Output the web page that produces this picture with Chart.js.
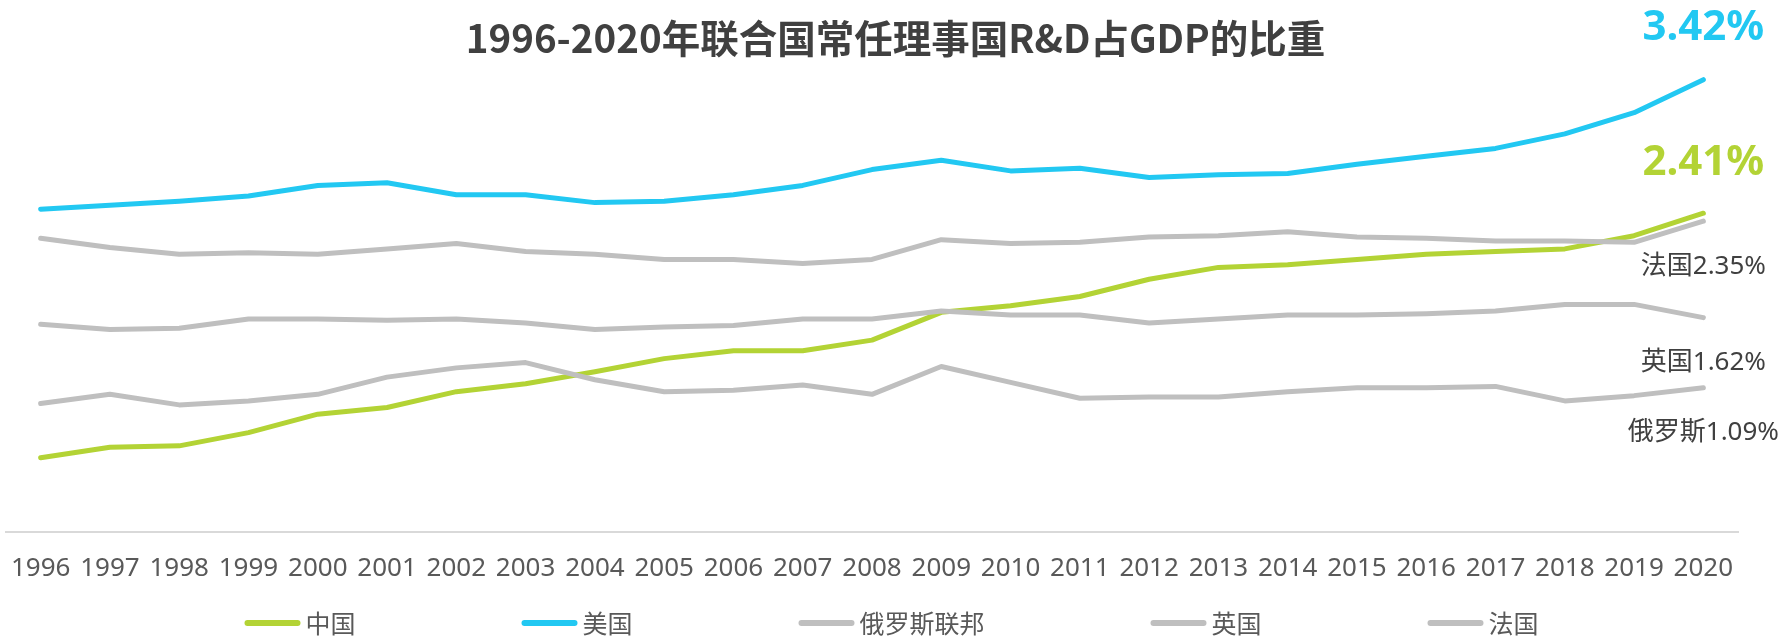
<!DOCTYPE html>
<html>
<head>
<meta charset="utf-8">
<title>R&D占GDP的比重</title>
<script src="https://cdn.jsdelivr.net/npm/chart.js@4.4.0/dist/chart.umd.min.js"></script>
<style>
    html, body { margin: 0; padding: 0; background: #fff; }
    #wrap { width: 1783px; height: 636px; position: relative; }
</style>
</head>
<body>
<div id="wrap"><canvas id="chart"></canvas></div>
<script>
const years = ['1996', '1997', '1998', '1999', '2000', '2001', '2002', '2003', '2004', '2005', '2006', '2007', '2008',
    '2009', '2010', '2011', '2012', '2013', '2014', '2015', '2016', '2017', '2018', '2019', '2020'];

// R&D占GDP比重 (%)
const china = [0.56, 0.64, 0.65, 0.75, 0.89, 0.94, 1.06, 1.12, 1.21, 1.31, 1.37, 1.37, 1.45,
    1.66, 1.71, 1.78, 1.91, 2.00, 2.02, 2.06, 2.10, 2.12, 2.14, 2.24, 2.41];
const usa = [2.44, 2.47, 2.50, 2.54, 2.62, 2.64, 2.55, 2.55, 2.49, 2.50, 2.55, 2.62, 2.74,
    2.81, 2.73, 2.75, 2.68, 2.70, 2.71, 2.78, 2.84, 2.90, 3.01, 3.17, 3.42];
const russia = [0.97, 1.04, 0.96, 0.99, 1.04, 1.17, 1.24, 1.28, 1.15, 1.06, 1.07, 1.11, 1.04,
    1.25, 1.13, 1.01, 1.02, 1.02, 1.06, 1.09, 1.09, 1.10, 0.99, 1.03, 1.09];
const uk = [1.57, 1.53, 1.54, 1.61, 1.61, 1.60, 1.61, 1.58, 1.53, 1.55, 1.56, 1.61, 1.61,
    1.67, 1.64, 1.64, 1.58, 1.61, 1.64, 1.64, 1.65, 1.67, 1.72, 1.72, 1.62];
const france = [2.22, 2.15, 2.10, 2.11, 2.10, 2.14, 2.18, 2.12, 2.10, 2.06, 2.06, 2.03, 2.06,
    2.21, 2.18, 2.19, 2.23, 2.24, 2.27, 2.23, 2.22, 2.20, 2.20, 2.19, 2.35];

const seriesNames = ['中国', '美国', '俄罗斯联邦', '英国', '法国'];
const endNames = ['', '', '俄罗斯', '英国', '法国'];
const titleText = '1996-2020年联合国常任理事国R&D占GDP的比重';

const GREEN = '#b3d335';
const BLUE = '#22c8f2';
const GREY = '#bfbfbf';
const TEXT = '#404040';
const LATIN = "'Noto Sans', 'Noto Sans CJK SC', sans-serif";
const CJK = "'Noto Sans CJK SC', 'Noto Sans', sans-serif";

// title, end-of-line labels and the legend row
const overlay = {
    id: 'overlay',
    afterDraw(chart) {
        const ctx = chart.ctx;
        const xs = chart.scales.x;
        const ys = chart.scales.y;
        const last = years.length - 1;
        const px = xs.getPixelForValue(last);
        const sets = chart.data.datasets;

        ctx.save();
        ctx.textAlign = 'center';
        ctx.textBaseline = 'middle';

        ctx.fillStyle = TEXT;
        ctx.font = 'bold 38.5px ' + CJK;
        ctx.fillText(titleText, chart.width / 2 + 4, 38);

        // big value labels for China / USA
        ctx.font = 'bold 42px ' + LATIN;
        ctx.fillStyle = BLUE;
        ctx.fillText(usa[last].toFixed(2) + '%', px, ys.getPixelForValue(usa[last]) - 52);
        ctx.fillStyle = GREEN;
        ctx.fillText(china[last].toFixed(2) + '%', px, ys.getPixelForValue(china[last]) - 50);

        // grey ones sit under their line end
        ctx.font = '26px ' + LATIN;
        ctx.fillStyle = TEXT;
        [2, 3, 4].forEach(i => {
            const v = sets[i].data[last];
            ctx.fillText(endNames[i] + v.toFixed(2) + '%', px, ys.getPixelForValue(v) + 45);
        });

        // legend
        const lineLen = 56, gapText = 5, gapItem = 166;
        ctx.font = '25px ' + CJK;
        const widths = sets.map(d => lineLen + gapText + ctx.measureText(d.label).width);
        const total = widths.reduce((a, b) => a + b, 0) + gapItem * (sets.length - 1);
        let x = chart.width / 2 - total / 2;
        const ly = 623;
        ctx.textAlign = 'left';
        ctx.lineCap = 'round';
        sets.forEach((d, i) => {
            ctx.strokeStyle = d.borderColor;
            ctx.lineWidth = 6;
            ctx.beginPath();
            ctx.moveTo(x + 3, ly);
            ctx.lineTo(x + lineLen - 3, ly);
            ctx.stroke();
            ctx.fillStyle = '#595959';
            ctx.fillText(d.label, x + lineLen + gapText, ly);
            x += widths[i] + gapItem;
        });
        ctx.restore();
    }
};

const ctx = document.getElementById('chart').getContext('2d');
const values = [china, usa, russia, uk, france];
const colors = [GREEN, BLUE, GREY, GREY, GREY];

const chart = new Chart(ctx, {
    type: 'line',
    data: {
        labels: years,
        datasets: values.map((v, i) => ({
            label: seriesNames[i],
            data: v,
            borderColor: colors[i],
            backgroundColor: colors[i],
            borderWidth: 5,
            borderCapStyle: 'round',
            borderJoinStyle: 'round',
            pointRadius: 0,
            tension: 0,
            order: values.length - i
        }))
    },
    options: {
        responsive: true,
        maintainAspectRatio: false,
        animation: false,
        layout: {
            padding: {top: 3, left: 6, right: 45, bottom: 31}
        },
        plugins: {
            legend: {display: false},
            title: {display: false},
            tooltip: {enabled: false}
        },
        scales: {
            x: {
                offset: true,
                grid: {display: false, drawTicks: false},
                border: {display: true, color: '#d9d9d9', width: 2},
                ticks: {
                    autoSkip: false,
                    maxRotation: 0,
                    padding: 21,
                    color: '#595959',
                    font: {family: LATIN, size: 26}
                },
                // labels fit inside the category bands, no extra side room needed
                afterFit(axis) {
                    axis.paddingLeft = 0;
                    axis.paddingRight = 0;
                }
            },
            y: {
                display: false,
                min: 0,
                max: 4
            }
        }
    },
    plugins: [overlay]
});
</script>
</body>
</html>
